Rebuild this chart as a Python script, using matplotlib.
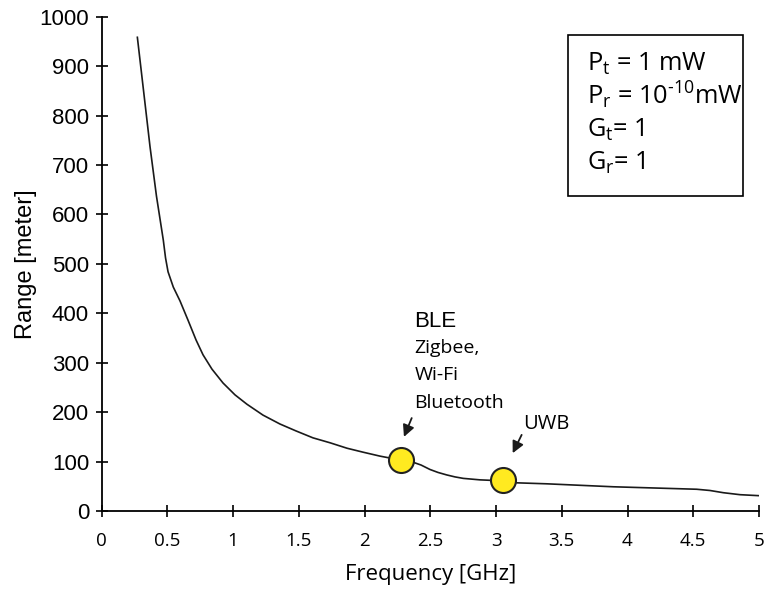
import numpy as np
import matplotlib
matplotlib.use('Agg')
import matplotlib.pyplot as plt
from matplotlib.patches import Rectangle

# range vs frequency curve
freq_ghz = [0.272, 0.319, 0.369, 0.418, 0.470, 0.487, 0.506, 0.546, 0.597,
            0.658, 0.719, 0.772, 0.840, 0.924, 1.015, 1.106, 1.228, 1.357,
            1.479, 1.608, 1.738, 1.867, 1.989, 2.118, 2.275, 2.371, 2.430,
            2.498, 2.559, 2.625, 2.688, 2.751, 2.878, 3.051, 3.157, 3.386,
            3.639, 3.892, 4.146, 4.526, 4.627, 4.729, 4.856, 5.000]
range_m = [960, 852, 737, 637, 548, 512, 484, 453, 425,
           386, 346, 316, 287, 259, 235, 216, 194, 176,
           162, 148, 138, 127, 119, 111, 103, 98.5, 93,
           84, 78, 73, 69, 66, 63, 61, 57, 55,
           52, 49, 47, 44, 41.5, 37, 33, 31]

# highlighted points
pt_freq = [2.275, 3.051]
pt_range = [103, 62]

xticks = [0, 0.5, 1, 1.5, 2, 2.5, 3, 3.5, 4, 4.5, 5]
xticklabels = ['0', '0.5', '1', '1.5', '2', '2.5', '3', '3.5', '4', '4.5', '5']
yticks = list(range(0, 1001, 100))

plt.rcParams['mathtext.fontset'] = 'custom'
plt.rcParams['mathtext.rm'] = 'Open Sans'
plt.rcParams['mathtext.it'] = 'Open Sans'

fig = plt.figure(figsize=(7.65, 5.9), dpi=100)
ax = fig.add_axes([101.5 / 765, 1 - 511 / 590, (759 - 101.5) / 765, (511 - 16.7) / 590])

ax.plot(freq_ghz, range_m, color='#1a1a1a', lw=1.2, solid_capstyle='butt',
        solid_joinstyle='round', zorder=2)
ax.plot(pt_freq, pt_range, 'o', ms=18, mfc='#FFEA20', mec='#222222', mew=1.5, zorder=3)

ax.set_xlim(0, 5)
ax.set_ylim(0, 1000)
ax.set_xticks(xticks)
ax.set_xticklabels(xticklabels, fontfamily='Open Sans', fontsize=13.5)
ax.set_yticks(yticks)
ax.set_yticklabels([str(v) for v in yticks], fontfamily='Liberation Sans', fontsize=16)
ax.tick_params(axis='both', direction='inout', length=8, width=1.2, color='black')
ax.tick_params(axis='x', pad=11)
ax.tick_params(axis='y', pad=5)

for s in ['top', 'right']:
    ax.spines[s].set_visible(False)
for s in ['left', 'bottom']:
    ax.spines[s].set_linewidth(1.3)

ax.set_xlabel('Frequency [GHz]', fontfamily='Open Sans', fontsize=16, labelpad=10)
ax.set_ylabel('Range [meter]', fontfamily='Liberation Sans', fontsize=17, labelpad=2)

# parameter box
box = Rectangle((568 / 765, 1 - 196 / 590), (743 - 568) / 765, (196 - 35) / 590,
                transform=fig.transFigure, fill=False, ec='black', lw=1.2)
fig.patches.append(box)
params = [r'P$_\mathregular{t}$ = 1 mW',
          r'P$_\mathregular{r}$ = 10$^{\text{-10}}$mW',
          r'G$_\mathregular{t}$= 1',
          r'G$_\mathregular{r}$= 1']
for i, s in enumerate(params):
    fig.text(587 / 765, 1 - (71 + 33 * i) / 590, s, fontsize=18.3, fontfamily='Open Sans',
             ha='left', va='baseline', color='black')

# labels for the highlighted points
ax.text(2.38, 372, 'BLE', fontfamily='Liberation Sans', fontsize=16,
        va='baseline', ha='left')
for i, s in enumerate(['Zigbee,', 'Wi-Fi', 'Bluetooth']):
    ax.text(2.38, [320, 265, 208][i], s, fontfamily='Open Sans', fontsize=14,
            va='baseline', ha='left')
ax.text(3.205, 166, 'UWB', fontfamily='Open Sans', fontsize=14.5,
        va='baseline', ha='left')

arrow = dict(arrowstyle='-|>,head_length=0.7,head_width=0.35', color='#1a1a1a', lw=1.3,
             shrinkA=0, shrinkB=0)
ax.annotate('', xy=(2.30, 150), xytext=(2.359, 188), arrowprops=arrow)
ax.annotate('', xy=(3.127, 117), xytext=(3.195, 154), arrowprops=arrow)

fig.savefig('out.png', dpi=100)
